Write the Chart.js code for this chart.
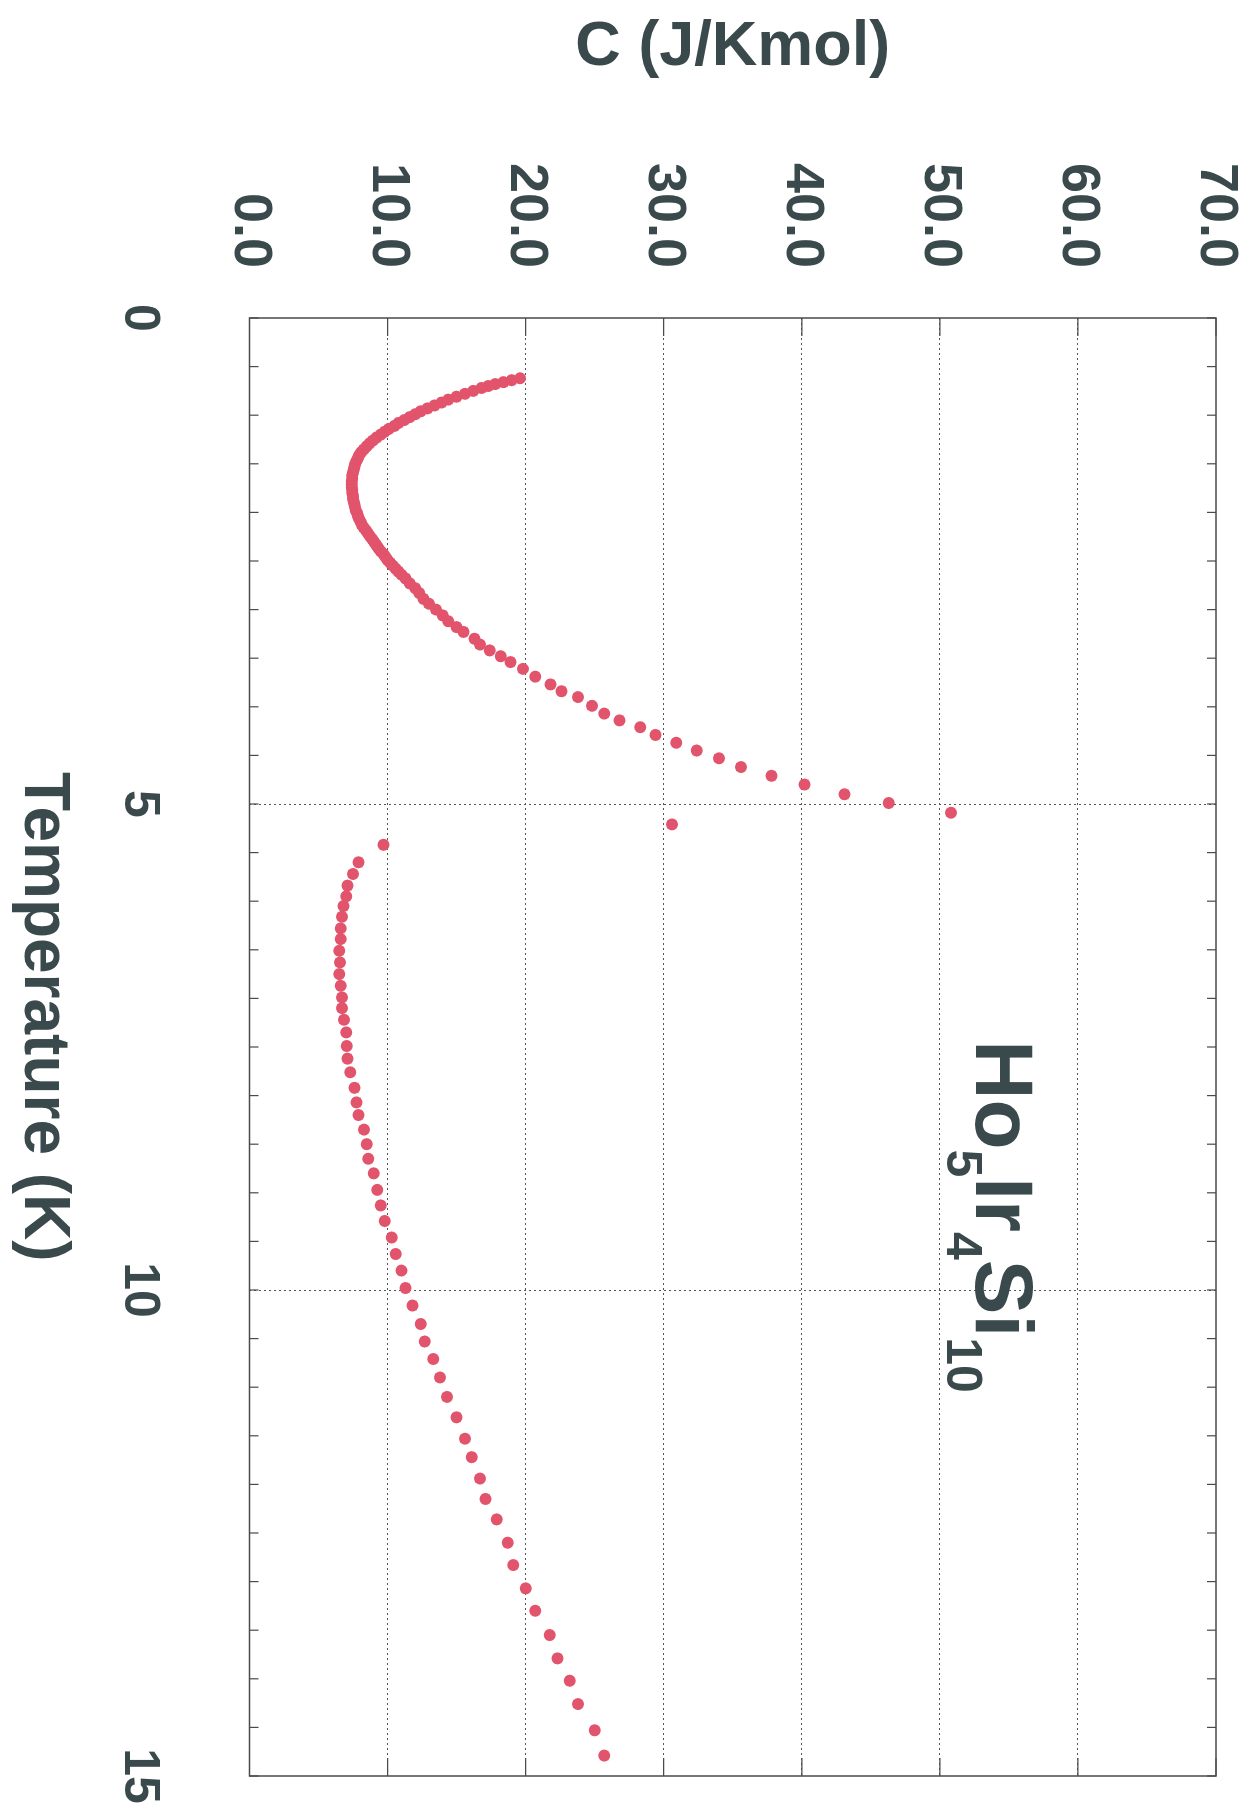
<!DOCTYPE html>
<html>
<head>
<meta charset="utf-8">
<title>Ho5Ir4Si10 - C x T</title>
<script src="https://cdn.jsdelivr.net/npm/chart.js@4.4.1/dist/chart.umd.min.js"></script>
<style>
    html, body {
        margin: 0;
        padding: 0;
        width: 1239px;
        height: 1813px;
        overflow: hidden;
        background: #ffffff;
    }

    /* o grafico e desenhado deitado e girado 90 graus, como na folha original */
    #moldura {
        position: absolute;
        left: 0;
        top: 0;
        width: 1813px;
        height: 1239px;
        transform-origin: 0 0;
        transform: translate(1239px, 0) rotate(90deg);
    }
</style>
</head>
<body>
<div id="moldura">
    <canvas id="grafico-calor" width="1813" height="1239"></canvas>
</div>

<script>
// Temperatura (K) de cada ponto medido
const temperaturas = [
    0.62, 0.64, 0.66, 0.68, 0.70, 0.72, 0.75, 0.78, 0.81, 0.84,
    0.87, 0.90, 0.93, 0.96, 0.99, 1.02, 1.05, 1.08, 1.11, 1.14,
    1.17, 1.20, 1.23, 1.26, 1.29, 1.32, 1.35, 1.38, 1.41, 1.44,
    1.47, 1.50, 1.53, 1.56, 1.59, 1.62, 1.65, 1.68, 1.71, 1.74,
    1.77, 1.80, 1.83, 1.86, 1.89, 1.92, 1.95, 1.98, 2.01, 2.04,
    2.07, 2.10, 2.13, 2.16, 2.19, 2.22, 2.25, 2.28, 2.31, 2.34,
    2.37, 2.40, 2.43, 2.46, 2.49, 2.52, 2.55, 2.58, 2.61, 2.64,
    2.68, 2.73, 2.78, 2.83, 2.89, 2.94, 3.00, 3.06, 3.12, 3.18,
    3.23, 3.30, 3.36, 3.42, 3.48, 3.54, 3.61, 3.69, 3.77, 3.84,
    3.90, 3.99, 4.07, 4.14, 4.21, 4.29, 4.37, 4.45, 4.53, 4.62,
    4.71, 4.80, 4.90, 4.99, 5.09,
    5.21,
    5.42, 5.60, 5.72, 5.84, 5.95, 6.05, 6.16, 6.28, 6.39, 6.51,
    6.63, 6.75, 6.87, 6.99, 7.10, 7.22, 7.35, 7.49, 7.62, 7.76,
    7.92, 8.07, 8.20, 8.35, 8.50, 8.65, 8.80, 8.97, 9.13, 9.29,
    9.46, 9.63, 9.80, 9.98, 10.16, 10.35, 10.53, 10.71, 10.90, 11.10,
    11.31, 11.53, 11.72, 11.94, 12.15, 12.36, 12.60, 12.83, 13.07, 13.30,
    13.55, 13.79, 14.02, 14.26, 14.53, 14.79
];

// Calor especifico C (J/Kmol), na mesma ordem
const calorEspecifico = [
    19.6, 19.0, 18.4, 17.8, 17.3, 16.8, 16.2, 15.6, 15.0, 14.4,
    13.9, 13.4, 12.9, 12.4, 12.0, 11.6, 11.2, 10.8, 10.5, 10.1,
    9.8, 9.5, 9.2, 8.95, 8.7, 8.5, 8.3, 8.1, 7.95, 7.85,
    7.75, 7.65, 7.6, 7.55, 7.5, 7.45, 7.45, 7.4, 7.4, 7.4,
    7.45, 7.45, 7.5, 7.5, 7.55, 7.6, 7.65, 7.7, 7.8, 7.85,
    7.95, 8.05, 8.15, 8.3, 8.45, 8.6, 8.75, 8.9, 9.05, 9.2,
    9.35, 9.5, 9.7, 9.85, 10.0, 10.2, 10.4, 10.6, 10.8, 11.0,
    11.3, 11.6, 12.0, 12.3, 12.6, 13.0, 13.5, 14.0, 14.4, 15.0,
    15.5, 16.3, 16.7, 17.4, 18.2, 18.9, 19.8, 20.7, 21.8, 22.6,
    23.8, 24.8, 25.7, 26.8, 28.3, 29.4, 30.9, 32.4, 34.0, 35.6,
    37.8, 40.2, 43.1, 46.3, 50.8,
    30.6,
    9.7, 7.9, 7.5, 7.1, 7.0, 6.8, 6.7, 6.6, 6.6, 6.5,
    6.55, 6.5, 6.6, 6.7, 6.7, 6.85, 7.0, 7.05, 7.1, 7.3,
    7.6, 7.75, 7.9, 8.3, 8.5, 8.6, 9.0, 9.25, 9.5, 9.8,
    10.3, 10.6, 11.0, 11.3, 11.8, 12.4, 12.7, 13.3, 13.8, 14.3,
    15.0, 15.6, 16.1, 16.7, 17.1, 17.9, 18.7, 19.1, 20.0, 20.7,
    21.75, 22.3, 23.2, 23.8, 25.0, 25.7
];

// rotulos dos eixos
const rotulosTemperatura = [0, 5, 10, 15];
const rotulosCalor = ['0.0', '10.0', '20.0', '30.0', '40.0', '50.0', '60.0', '70.0'];
const tituloTemperatura = 'Temperature (K)';
const tituloCalor = 'C (J/Kmol)';

// composto: texto + se e subscrito
const formulaPartes = ['Ho', '5', 'Ir', '4', 'Si', '10'];
const formulaSubscrito = [false, true, false, true, false, true];
const formulaPosicao = { temperatura: 7.43, calor: 52.6 };

// o titulo de temperatura fica um pouco antes do meio do eixo
const tituloTemperaturaCentro = 7.19;

const COR_TEXTO = '#3a4a4c';
const COR_PONTO = '#e2536c';
const FONTE = "'Liberation Sans', Arial, sans-serif";
const SEM_COR = 'rgba(0,0,0,0)';

const pontos = temperaturas.map((t, i) => ({ x: t, y: calorEspecifico[i] }));

// borda da area do grafico, tracinhos internos, titulo de T e o nome do composto
const pluginMoldura = {
    id: 'moldura',
    afterDraw(chart) {
        const { ctx, chartArea: area, scales } = chart;
        const eixoT = scales.x;
        const eixoC = scales.y;

        ctx.save();
        ctx.strokeStyle = '#4a4a4a';
        ctx.lineWidth = 1.5;
        ctx.strokeRect(area.left, area.top, area.right - area.left, area.bottom - area.top);

        ctx.beginPath();
        eixoT.ticks.forEach(tick => {
            const px = eixoT.getPixelForValue(tick.value);
            ctx.moveTo(px, area.bottom);
            ctx.lineTo(px, area.bottom - 9);
            ctx.moveTo(px, area.top);
            ctx.lineTo(px, area.top + 9);
        });
        eixoC.ticks.forEach(tick => {
            const py = eixoC.getPixelForValue(tick.value);
            ctx.moveTo(area.left, py);
            ctx.lineTo(area.left + 18, py);
            ctx.moveTo(area.right, py);
            ctx.lineTo(area.right - 18, py);
        });
        ctx.lineWidth = 1.2;
        ctx.stroke();

        ctx.fillStyle = COR_TEXTO;

        // titulo do eixo de temperatura
        ctx.font = 'bold 64px ' + FONTE;
        ctx.textAlign = 'center';
        ctx.textBaseline = 'middle';
        ctx.fillText(tituloTemperatura, eixoT.getPixelForValue(tituloTemperaturaCentro), eixoT.bottom - 43);

        // Ho5Ir4Si10
        let cx = eixoT.getPixelForValue(formulaPosicao.temperatura);
        const base = eixoC.getPixelForValue(formulaPosicao.calor);
        ctx.textBaseline = 'alphabetic';
        ctx.textAlign = 'left';
        for (let i = 0; i < formulaPartes.length; i++) {
            if (formulaSubscrito[i]) {
                ctx.font = 'bold 50px ' + FONTE;
                ctx.fillText(formulaPartes[i], cx, base + 29);
            } else {
                ctx.font = 'bold 82px ' + FONTE;
                ctx.fillText(formulaPartes[i], cx, base);
            }
            cx += ctx.measureText(formulaPartes[i]).width;
        }
        ctx.restore();
    }
};

const canvas = document.getElementById('grafico-calor');

const grafico = new Chart(canvas, {
    type: 'scatter',
    data: {
        datasets: [{
            label: 'C',
            data: pontos,
            backgroundColor: COR_PONTO,
            borderColor: COR_PONTO,
            borderWidth: 0,
            pointRadius: 6,
            pointHoverRadius: 6
        }]
    },
    plugins: [pluginMoldura],
    options: {
        responsive: false,
        animation: false,
        devicePixelRatio: 1,
        layout: {
            padding: { top: 23, right: 37, bottom: 0, left: 0 }
        },
        plugins: {
            legend: { display: false },
            tooltip: { enabled: false }
        },
        scales: {
            x: {
                type: 'linear',
                min: 0,
                max: 15,
                afterFit: (escala) => { escala.height = 249.5; },
                ticks: {
                    stepSize: 0.5,
                    autoSkip: false,
                    maxRotation: 0,
                    padding: 0,
                    color: COR_TEXTO,
                    font: { family: FONTE, size: 50, weight: 'bold', lineHeight: 1 },
                    callback: (valor) => rotulosTemperatura.includes(valor) ? String(valor) : ''
                },
                grid: {
                    drawTicks: true,
                    tickLength: 86,
                    tickColor: SEM_COR,
                    lineWidth: 1,
                    color: (ctx) => {
                        const v = ctx.tick ? ctx.tick.value : null;
                        return (v === 5 || v === 10) ? '#555555' : SEM_COR;
                    }
                },
                border: { display: false, dash: [2, 3] },
                title: { display: false }
            },
            y: {
                type: 'linear',
                min: 0,
                max: 70,
                afterFit: (escala) => { escala.width = 318; },
                ticks: {
                    stepSize: 10,
                    padding: 0,
                    color: COR_TEXTO,
                    font: { family: FONTE, size: 54, weight: 'bold', lineHeight: 0.8 },
                    callback: (valor) => rotulosCalor[Math.round(valor / 10)]
                },
                grid: {
                    drawTicks: true,
                    tickLength: 50,
                    tickColor: SEM_COR,
                    lineWidth: 1,
                    color: (ctx) => {
                        const v = ctx.tick ? ctx.tick.value : null;
                        return (v > 0 && v < 70) ? '#555555' : SEM_COR;
                    }
                },
                border: { display: false, dash: [2, 3] },
                title: {
                    display: true,
                    text: tituloCalor,
                    color: COR_TEXTO,
                    font: { family: FONTE, size: 63, weight: 'bold', lineHeight: 1.2 },
                    padding: { top: 10, bottom: 0 }
                }
            }
        }
    }
});
</script>
</body>
</html>
